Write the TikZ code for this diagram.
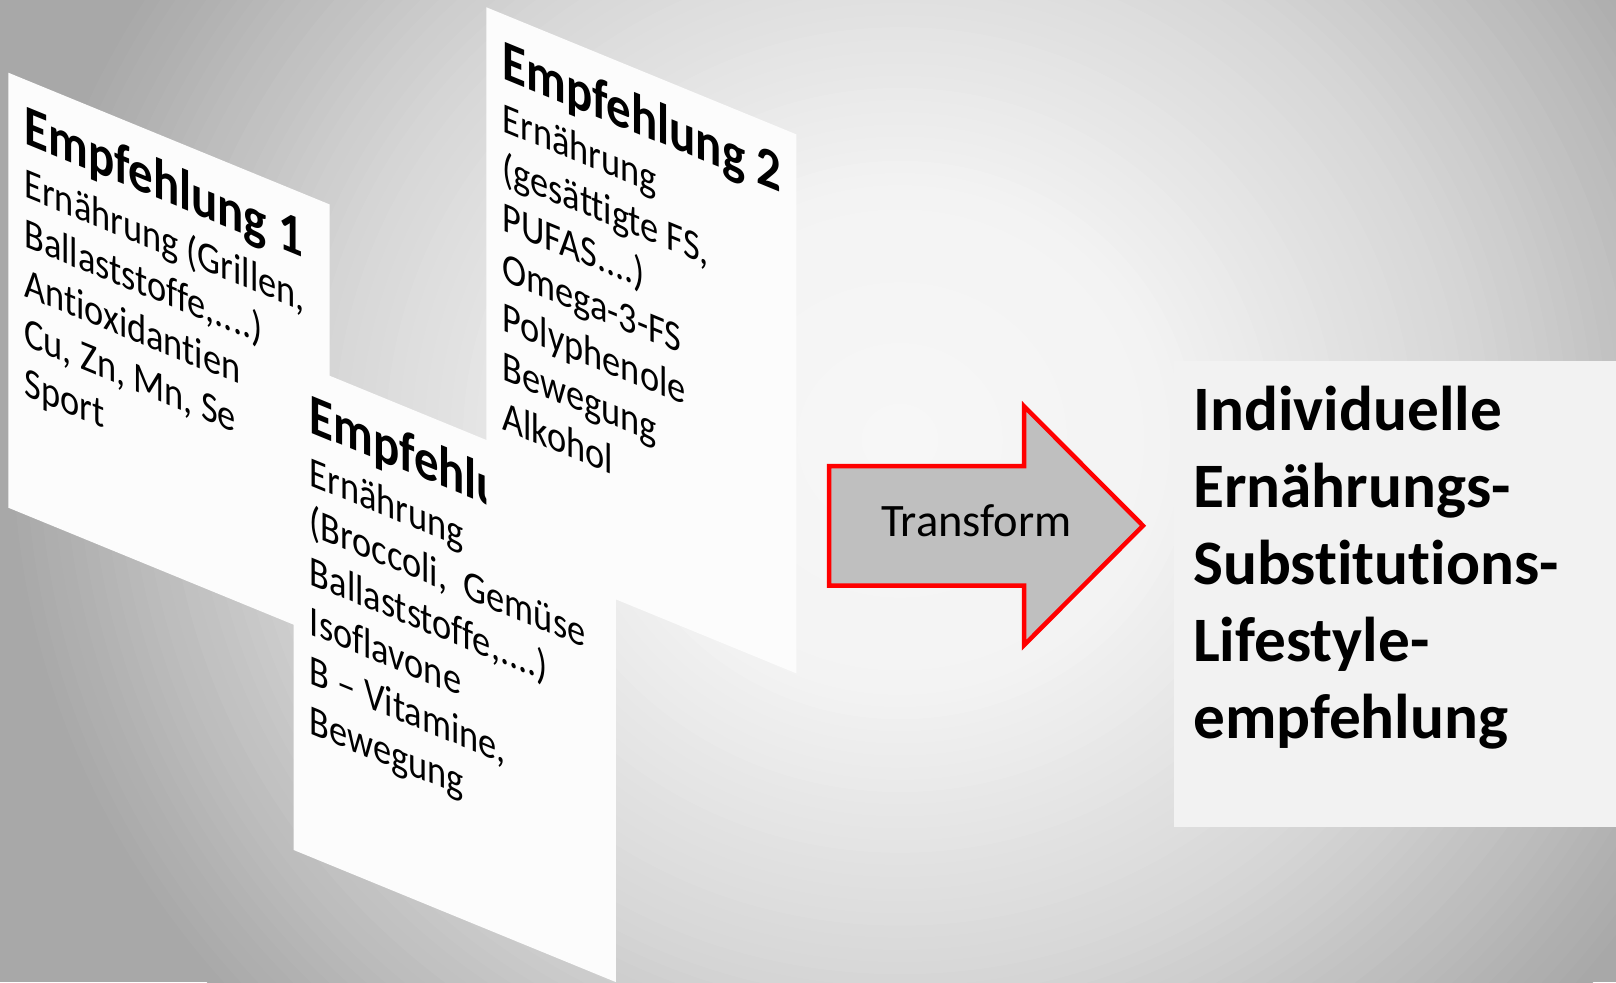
\documentclass[tikz,border=0pt]{standalone}
\usepackage{fontspec}
\setmainfont{Carlito}[Ligatures={NoCommon,NoRare,NoContextual},Contextuals=NoAlternate]
\definecolor{bgouter}{HTML}{A8A8A8}
\definecolor{sheetwhite}{HTML}{FCFCFC}
\definecolor{boxgray}{HTML}{F2F2F2}
\definecolor{arrowgray}{HTML}{BFBFBF}
\definecolor{arrowred}{HTML}{FF0000}
\begin{document}
\begin{tikzpicture}[x=1pt,y=1pt,
  sheet/.style={fill=sheetwhite, draw=none},
  sheettitle/.style={anchor=base west, inner sep=0pt,
    font=\bfseries\fontsize{57.5}{64}\selectfont},
  sheetline/.style={anchor=base west, inner sep=0pt,
    font=\fontsize{42.8}{50}\selectfont},
  resultline/.style={anchor=base west, inner sep=0pt,
    font=\bfseries\fontsize{63.3}{77}\selectfont},
  blockarrow/.style={fill=arrowgray, draw=arrowred, line width=4.5pt, line join=miter},
]
\useasboundingbox (0,0) rectangle (1616,-982);

% background: soft glow, built from concentric ellipses
\begin{scope}
  \clip (0,0) rectangle (1616,-982);
  \fill[bgouter] (0,0) rectangle (1616,-982);
  \foreach \k in {0,...,69}{
    \pgfmathsetmacro\rr{1-\k/70}
    \pgfmathsetmacro\gv{\rr<0.3 ? 0.969-0.016*\rr/0.3 :
      (\rr<0.65 ? 0.953-0.114*(\rr-0.3)/0.35 : 0.839-0.180*(\rr-0.65)/0.35)}
    \definecolor{glowtone}{gray}{\gv}
    \fill[glowtone] (900,-440) ellipse [x radius=900*\rr, y radius=850*\rr];
  }
\end{scope}

% sheet 1
\begin{scope}[cm={0.85,-0.3485,0,1,(8.3,-72.7)}, transform shape]
  \fill[sheet] (0,0) rectangle (378,-435);
  \node[sheettitle] (s1title) at (18.8,-64.5) {Empfehlung 1};
  \node[sheetline] (s1line1) at (18.8,-117.5) {Ernährung (Grillen,};
  \node[sheetline] (s1line2) at (18.8,-167.2) {Ballaststoffe,....)};
  \node[sheetline] (s1line3) at (18.8,-216.9) {Antioxidantien};
  \node[sheetline] (s1line4) at (18.8,-266.6) {Cu, Zn, Mn, Se};
  \node[sheetline] (s1line5) at (18.8,-316.3) {Sport};
\end{scope}

% sheet 3 (in front of sheet 1, behind sheet 2)
\begin{scope}[cm={0.85,-0.3485,0,1,(293.7,-361)}, transform shape]
  \fill[sheet] (0,0) rectangle (379,-489);
  \node[sheettitle] (s3title) at (18.8,-64.5) {Empfehlu};
  \node[sheetline] (s3line1) at (18.8,-117.5) {Ernährung};
  \node[sheetline] (s3line2) at (18.8,-167.2) {(Broccoli,\ \ Gemüse};
  \node[sheetline] (s3line3) at (18.8,-216.9) {Ballaststoffe,....)};
  \node[sheetline] (s3line4) at (18.8,-266.6) {Isoflavone};
  \node[sheetline] (s3line5) at (18.8,-316.3) {B – Vitamine,};
  \node[sheetline] (s3line6) at (18.8,-366.0) {Bewegung};
\end{scope}

% sheet 2
\begin{scope}[cm={0.85,-0.3485,0,1,(486.4,-7.3)}, transform shape]
  \fill[sheet] (0,0) rectangle (364.7,-539);
  \node[sheettitle] (s2title) at (18.8,-64.5) {Empfehlung 2};
  \node[sheetline] (s2line1) at (18.8,-117.5) {Ernährung};
  \node[sheetline] (s2line2) at (18.8,-167.2) {(gesättigte FS,};
  \node[sheetline] (s2line3) at (18.8,-216.9) {PUFAS....)};
  \node[sheetline] (s2line4) at (18.8,-266.6) {Omega-3-FS};
  \node[sheetline] (s2line5) at (18.8,-316.3) {Polyphenole};
  \node[sheetline] (s2line6) at (18.8,-366.0) {Bewegung};
  \node[sheetline] (s2line7) at (18.8,-415.7) {Alkohol};
\end{scope}

% transform arrow
\draw[blockarrow] (829,-466) -- (1024,-466) -- (1024,-406.2) -- (1143,-525.7)
  -- (1024,-645.2) -- (1024,-585.5) -- (829,-585.5) -- cycle;
\node[anchor=base, inner sep=0pt, font=\fontsize{46.5}{50}\selectfont]
  (transform) at (976.5,-536) {Transform};

% result box
\fill[boxgray] (1174,-361) rectangle (1616,-826.7);
\node[resultline] (result1) at (1193,-430) {Individuelle};
\node[resultline] (result2) at (1193,-507) {Ernährungs-};
\node[resultline] (result3) at (1193,-584) {Substitutions-};
\node[resultline] (result4) at (1193,-661) {Lifestyle-};
\node[resultline] (result5) at (1193,-738) {empfehlung};
\end{tikzpicture}
\end{document}
